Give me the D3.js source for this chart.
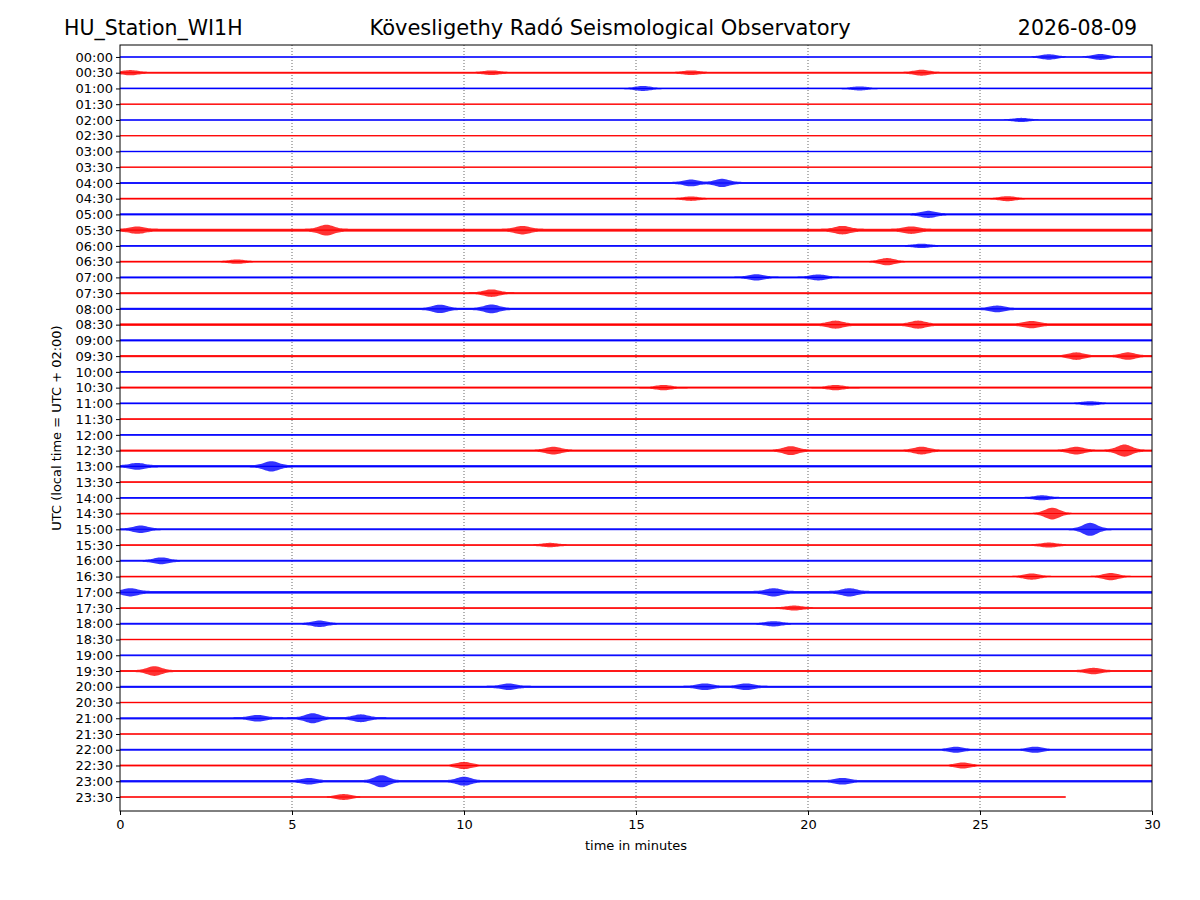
<!DOCTYPE html>
<html>
<head>
  <title>Helicorder</title>
  <script src="https://d3js.org/d3.v7.min.js"></script>
  <style>body{margin:0;background:#fff;font-family:"DejaVu Sans",sans-serif;}</style>
</head>
<body>
<div id="chart"></div>
<script>
  // row labels (UTC, every 30 minutes)
  const rowLabels = d3.range(48).map(i => String(Math.floor(i / 2)).padStart(2, "0") + ":" + (i % 2 ? "30" : "00"));
  const xTicks = [0, 5, 10, 15, 20, 25, 30];
  // background noise half-amplitude per row (in row units)
  const baseAmp = [0.06,0.08,0.07,0.05,0.06,0.05,0.06,0.05,0.08,0.07,0.09,0.12,0.07,0.07,0.08,0.08,
                   0.09,0.1,0.09,0.08,0.07,0.08,0.07,0.06,0.07,0.09,0.1,0.06,0.07,0.07,0.08,0.07,
                   0.08,0.07,0.11,0.07,0.08,0.06,0.07,0.08,0.09,0.06,0.09,0.06,0.07,0.07,0.09,0.06];
  // notable bursts per row: [minute, half-amplitude]
  const events = [
    [[27,0.18],[28.5,0.2]],
    [[0.3,0.15],[10.8,0.12],[16.6,0.12],[23.3,0.18]],
    [[15.2,0.15],[21.5,0.1]],
    [],
    [[26.2,0.12]],
    [], [], [],
    [[16.6,0.22],[17.5,0.28]],
    [[16.6,0.12],[25.8,0.15]],
    [[23.5,0.22]],
    [[0.5,0.2],[6,0.35],[11.7,0.25],[21,0.25],[23,0.2]],
    [[23.3,0.12]],
    [[3.4,0.12],[22.3,0.25]],
    [[18.5,0.2],[20.3,0.18]],
    [[10.8,0.25]],
    [[9.3,0.28],[10.8,0.3],[25.5,0.2]],
    [[20.8,0.25],[23.2,0.25],[26.5,0.22]],
    [],
    [[27.8,0.25],[29.3,0.25]],
    [],
    [[15.8,0.15],[20.8,0.15]],
    [[28.2,0.12]],
    [], [],
    [[12.6,0.25],[19.5,0.3],[23.3,0.25],[27.8,0.25],[29.2,0.45]],
    [[0.5,0.2],[4.4,0.35]],
    [],
    [[26.8,0.15]],
    [[27.1,0.45]],
    [[0.6,0.25],[28.2,0.5]],
    [[12.5,0.12],[27,0.15]],
    [[1.2,0.22]],
    [[26.5,0.2],[28.8,0.25]],
    [[0.3,0.25],[19,0.25],[21.2,0.25]],
    [[19.6,0.15]],
    [[5.8,0.2],[19,0.15]],
    [], [],
    [[1,0.35],[28.3,0.2]],
    [[11.3,0.2],[17,0.2],[18.2,0.2]],
    [],
    [[4,0.2],[5.6,0.35],[7,0.25]],
    [],
    [[24.3,0.2],[26.6,0.2]],
    [[10,0.25],[24.5,0.2]],
    [[5.5,0.2],[7.6,0.45],[10,0.3],[21,0.2]],
    [[6.5,0.2]]
  ];
  const rowEnd = d3.range(48).map(i => i === 47 ? 27.5 : 30);

  const W = 1200, H = 900;
  const margin = { left: 120, right: 48, top: 45, bottom: 89 };
  const svg = d3.select("#chart").append("svg").attr("width", W).attr("height", H);

  const x = d3.scaleLinear().domain([0, 30]).range([margin.left, W - margin.right]);
  const y = d3.scaleLinear().domain([-0.76, 47.89]).range([margin.top, H - margin.bottom]);

  // grid
  svg.append("g").selectAll("line").data(xTicks.slice(1, -1)).join("line")
    .attr("x1", d => x(d)).attr("x2", d => x(d))
    .attr("y1", margin.top).attr("y2", H - margin.bottom)
    .attr("stroke", "#000").attr("stroke-width", 0.6).attr("stroke-dasharray", "1,2");

  // traces as envelopes
  const step = 0.04;
  rowLabels.forEach((lab, i) => {
    const ts = d3.range(0, rowEnd[i] + 1e-9, step);
    const amp = t => {
      let a = baseAmp[i] * 0.8;
      events[i].forEach(([m, h]) => { const z = (t - m) / 0.28; a += 0.7 * h * Math.exp(-z * z); });
      return a;
    };
    const col = i % 2 ? "#ff0000" : "#0000ff";
    const area = d3.area().x(t => x(t)).y0(t => y(i) - amp(t) * (y(1) - y(0))).y1(t => y(i) + amp(t) * (y(1) - y(0)));
    svg.append("path").attr("d", area(ts)).attr("fill", col).attr("opacity", 0.8);
    svg.append("line").attr("x1", x(0)).attr("x2", x(rowEnd[i])).attr("y1", y(i)).attr("y2", y(i))
      .attr("stroke", col).attr("stroke-width", 1.1);
  });

  // frame
  svg.append("rect").attr("x", margin.left).attr("y", margin.top)
    .attr("width", W - margin.left - margin.right).attr("height", H - margin.top - margin.bottom)
    .attr("fill", "none").attr("stroke", "#000").attr("stroke-width", 1);

  const xAxis = svg.append("g").attr("transform", "translate(0," + (H - margin.bottom) + ")")
    .call(d3.axisBottom(x).tickValues(xTicks).tickSize(4).tickPadding(5));
  xAxis.select(".domain").remove();
  xAxis.selectAll("text").style("font-size", "13px").style("font-family", "DejaVu Sans");

  const yAxis = svg.append("g").attr("transform", "translate(" + margin.left + ",0)")
    .call(d3.axisLeft(y).tickValues(d3.range(48)).tickFormat(i => rowLabels[i]).tickSize(4).tickPadding(3));
  yAxis.select(".domain").remove();
  yAxis.selectAll("text").style("font-size", "13px").style("font-family", "DejaVu Sans");

  svg.append("text").attr("x", (x(0) + x(30)) / 2).attr("y", 850).attr("text-anchor", "middle")
    .style("font-size", "13px").text("time in minutes");
  svg.append("text").attr("transform", "translate(61," + (margin.top + H - margin.bottom) / 2 + ") rotate(-90)")
    .attr("text-anchor", "middle").style("font-size", "13px").text("UTC (local time = UTC + 02:00)");

  svg.append("text").attr("x", 64).attr("y", 35).style("font-size", "20.5px").text("HU_Station_WI1H");
  svg.append("text").attr("x", 610).attr("y", 35).attr("text-anchor", "middle").style("font-size", "21px")
    .text("Kövesligethy Radó Seismological Observatory");
  svg.append("text").attr("x", 1137).attr("y", 35).attr("text-anchor", "end").style("font-size", "20.5px").text("2026-08-09");
</script>
</body>
</html>
